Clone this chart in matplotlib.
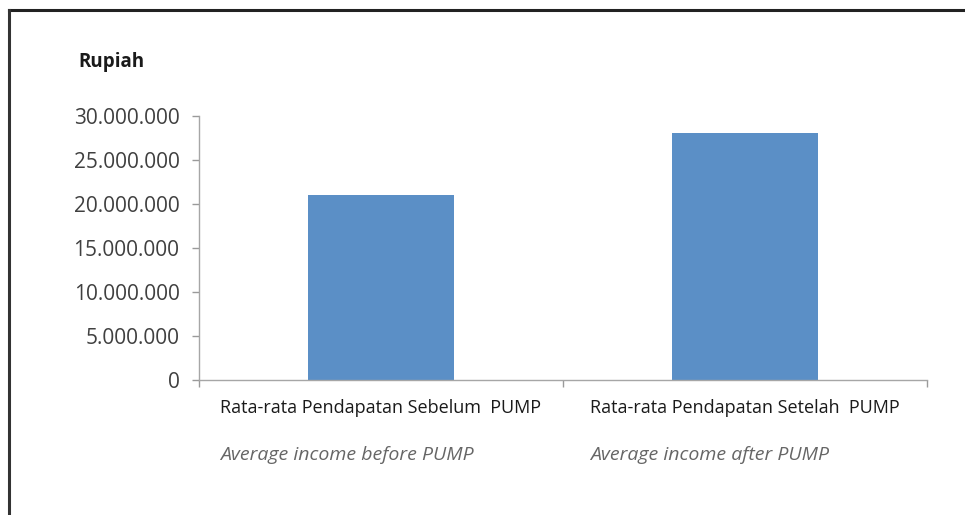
import matplotlib
matplotlib.use('Agg')
import matplotlib.pyplot as plt
from matplotlib.ticker import FuncFormatter

# data
categories = ['Rata-rata Pendapatan Sebelum  PUMP', 'Rata-rata Pendapatan Setelah  PUMP']
subtitles = ['Average income before PUMP', 'Average income after PUMP']
values = [21000000, 28100000]
yticks = [0, 5000000, 10000000, 15000000, 20000000, 25000000, 30000000]

plt.rcParams['font.family'] = ['Open Sans', 'DejaVu Sans']

fig = plt.figure(figsize=(9.65, 5.15), dpi=100)
ax = fig.add_axes([199 / 965, 1 - 380 / 515, 728 / 965, 264 / 515])

pos = list(range(len(values)))
ax.bar(pos, values, width=0.4, color='#5b8fc6')

ax.set_xlim(-0.5, len(values) - 0.5)
ax.set_ylim(0, 30000000)
ax.set_yticks(yticks)
ax.yaxis.set_major_formatter(FuncFormatter(lambda v, p: '{:,.0f}'.format(v).replace(',', '.')))
ax.tick_params(axis='y', labelsize=15, colors='#9a9a9a', labelcolor='#404040',
               length=5, width=1, pad=9)

# category boundary ticks
ax.set_xticks([p - 0.5 for p in pos] + [pos[-1] + 0.5])
ax.set_xticklabels([])
ax.tick_params(axis='x', colors='#9a9a9a', length=5, width=1)

for s in ['top', 'right']:
    ax.spines[s].set_visible(False)
for s in ['left', 'bottom']:
    ax.spines[s].set_color('#a6a6a6')
    ax.spines[s].set_linewidth(1)

fig.canvas.draw()
renderer = fig.canvas.get_renderer()
for i, (c, s) in enumerate(zip(categories, subtitles)):
    t = ax.annotate(c, xy=(i, 0), xycoords=('data', 'axes fraction'),
                    xytext=(0, -28), textcoords='offset pixels',
                    ha='center', va='center', fontsize=13, color='#1a1a1a')
    bb = t.get_window_extent(renderer)
    x0 = ax.transData.inverted().transform((bb.x0, 0))[0]
    ax.annotate(s, xy=(x0, 0), xycoords=('data', 'axes fraction'),
                xytext=(0, -75), textcoords='offset pixels',
                ha='left', va='center', fontsize=14, style='italic', color='#666666')

fig.text(78 / 965, 1 - 62 / 515, 'Rupiah', fontsize=13.5, fontweight='bold',
         color='#1a1a1a', ha='left', va='center')

# outer frame (only top and left edges visible)
fig.add_artist(plt.Line2D([9 / 965, 1], [1 - 10 / 515, 1 - 10 / 515],
                          transform=fig.transFigure, color='#222222', linewidth=2.2))
fig.add_artist(plt.Line2D([9 / 965, 9 / 965], [0, 1 - 10 / 515],
                          transform=fig.transFigure, color='#333333', linewidth=2.2))

fig.savefig('out.png', dpi=100)
